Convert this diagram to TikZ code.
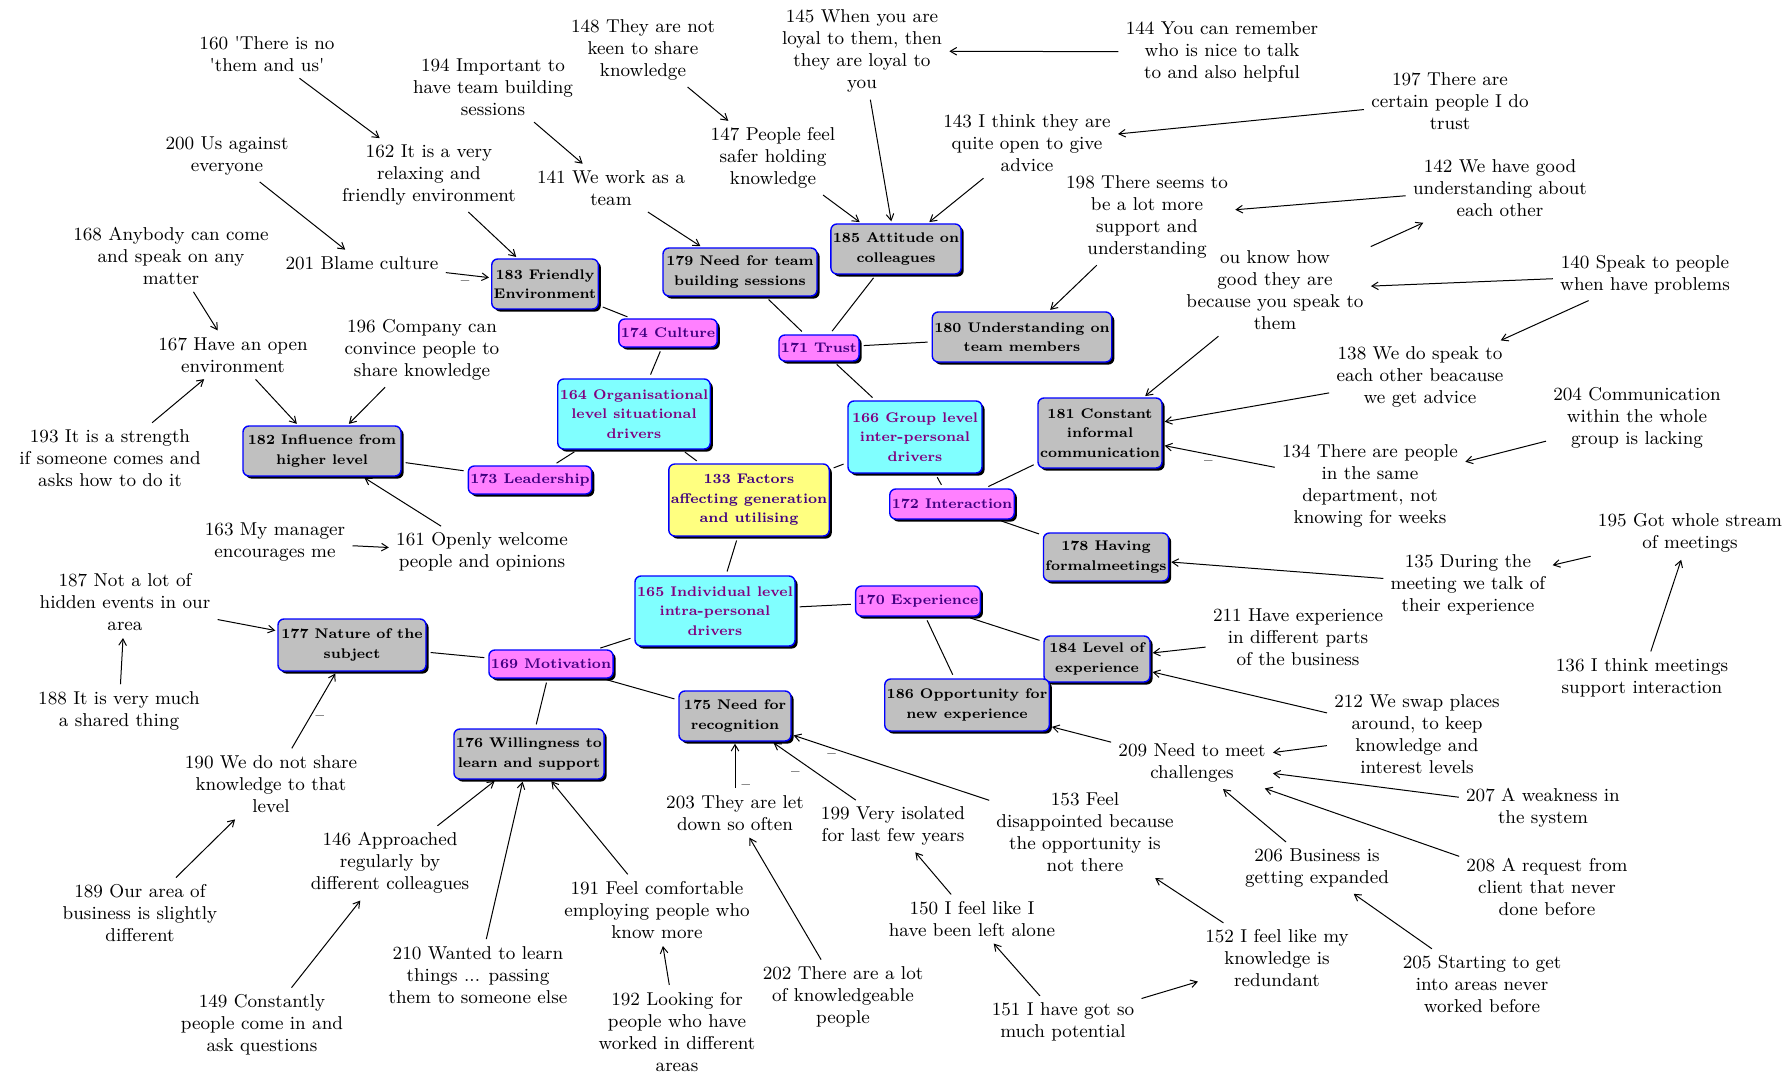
\documentclass[tikz,border=0pt]{standalone}
\usepackage{tikz}
\usetikzlibrary{calc,positioning,arrows.meta,shadows}
\definecolor{boxgray}{HTML}{C0C0C0}
\definecolor{boxpink}{HTML}{FF80FF}
\definecolor{boxcyan}{HTML}{80FFFF}
\definecolor{boxyellow}{HTML}{FFFF80}
\definecolor{boxblue}{HTML}{0000FF}
\definecolor{inkpink}{HTML}{400080}
\definecolor{inkcyan}{HTML}{800080}

\begin{document}
\begin{tikzpicture}[x=0.5pt, y=-0.5pt,
  txt/.style={align=center, inner sep=2.5pt, font=\fontsize{9.3}{11}\selectfont},
  lbl/.style={inner sep=3pt, font=\fontsize{8}{8}\selectfont},
  arr/.style={-{Straight Barb[length=3.2pt,width=3.8pt]}, line width=0.5pt, shorten >=1pt, shorten <=1pt},
  lnk/.style={line width=0.5pt, shorten >=2pt, shorten <=2pt}]
\tikzstyle{box}=[draw=boxblue, rounded corners=3pt, align=center, line width=0.7pt, inner sep=1pt, font=\fontsize{7}{9.8}\selectfont\bfseries, drop shadow={shadow xshift=1.3pt, shadow yshift=-1.3pt, fill=black, opacity=1}]
\tikzstyle{gbox}=[box, fill=boxgray]
\tikzstyle{pbox}=[box, fill=boxpink, text=inkpink]
\tikzstyle{cbox}=[box, fill=boxcyan, text=inkcyan]
\tikzstyle{ybox}=[box, fill=boxyellow, text=inkpink]
\useasboundingbox (0,0) rectangle (1783,1075);
% boxes
\node[ybox, minimum width=76pt, minimum height=36pt] (n133) at (749,500) {133 Factors\\affecting generation\\and utilising};
\node[cbox, minimum width=76pt, minimum height=35pt] (n164) at (634,414) {164 Organisational\\level situational\\drivers};
\node[cbox, minimum width=67pt, minimum height=36pt] (n166) at (915,437) {166 Group level\\inter-personal\\drivers};
\node[cbox, minimum width=80pt, minimum height=35pt] (n165) at (715,611) {165 Individual level\\intra-personal\\drivers};
\node[pbox, minimum width=46pt, minimum height=14pt] (n174) at (668,333) {174 Culture};
\node[pbox, minimum width=39pt, minimum height=13pt] (n171) at (819,348) {171 Trust};
\node[pbox, minimum width=60pt, minimum height=14pt] (n173) at (530,480) {173 Leadership};
\node[pbox, minimum width=59pt, minimum height=15pt] (n172) at (952,504) {172 Interaction};
\node[pbox, minimum width=60pt, minimum height=15pt] (n170) at (918,601) {170 Experience};
\node[pbox, minimum width=60pt, minimum height=14pt] (n169) at (551,664) {169 Motivation};
\node[gbox, minimum width=52pt, minimum height=25pt] (n183) at (545,284) {183 Friendly\\Environment};
\node[gbox, minimum width=77pt, minimum height=24pt] (n179) at (740,272) {179 Need for team\\building sessions};
\node[gbox, minimum width=65pt, minimum height=25pt] (n185) at (896,249) {185 Attitude on\\colleagues};
\node[gbox, minimum width=88pt, minimum height=25pt] (n180) at (1022,337) {180 Understanding on\\team members};
\node[gbox, minimum width=60pt, minimum height=35pt] (n181) at (1100,433) {181 Constant\\informal\\communication};
\node[gbox, minimum width=59pt, minimum height=24pt] (n178) at (1106,557) {178 Having\\formalmeetings};
\node[gbox, minimum width=53pt, minimum height=23pt] (n184) at (1097,659) {184 Level of\\experience};
\node[gbox, minimum width=82pt, minimum height=26pt] (n186) at (967,705) {186 Opportunity for\\new experience};
\node[gbox, minimum width=79pt, minimum height=25pt] (n182) at (322,451) {182 Influence from\\higher level};
\node[gbox, minimum width=74pt, minimum height=26pt] (n177) at (352,645) {177 Nature of the\\subject};
\node[gbox, minimum width=73pt, minimum height=25pt] (n176) at (529,754) {176 Willingness to\\learn and support};
\node[gbox, minimum width=56pt, minimum height=25pt] (n175) at (735,716) {175 Need for\\recognition};
% statements
\node[txt] (n160) at (267,54) {160 \textquotesingle There is no\\\textquotesingle them and us\textquotesingle};
\node[txt] (n194) at (493,87) {194 Important to\\have team building\\sessions};
\node[txt] (n148) at (643,50) {148 They are not\\keen to share\\knowledge};
\node[txt] (n145) at (862,51) {145 When you are\\loyal to them, then\\they are loyal to\\you};
\node[txt] (n144) at (1222,52) {144 You can remember\\who is nice to talk\\to and also helpful};
\node[txt] (n197) at (1450,101) {197 There are\\certain people I do\\trust};
\node[txt] (n143) at (1027,143) {143 I think they are\\quite open to give\\advice};
\node[txt] (n147) at (773,158) {147 People feel\\safer holding\\knowledge};
\node[txt] (n162) at (429,175) {162 It is a very\\relaxing and\\friendly environment};
\node[txt] (n141) at (611,188) {141 We work as a\\team};
\node[txt] (n200) at (227,156) {200 Us against\\everyone};
\node[txt] (n198) at (1147,217) {198 There seems to\\be a lot more\\support and\\understanding};
\node[txt] (n142) at (1500,188) {142 We have good\\understanding about\\each other};
\node[txt] (nyou) at (1275,290) {ou know how\\good they are\\because you speak to\\them};
\node[txt] (n140) at (1645,275) {140 Speak to people\\when have problems};
\node[txt] (n168) at (171,256) {168 Anybody can come\\and speak on any\\matter};
\node[txt] (n201) at (362,263) {201 Blame culture};
\node[txt] (n167) at (233,355) {167 Have an open\\environment};
\node[txt] (n196) at (422,350) {196 Company can\\convince people to\\share knowledge};
\node[txt] (n138) at (1420,377) {138 We do speak to\\each other beacause\\we get advice};
\node[txt] (n204) at (1637,418) {204 Communication\\within the whole\\group is lacking};
\node[txt] (n193) at (110,458) {193 It is a strength\\if someone comes and\\asks how to do it};
\node[txt] (n134) at (1370,486) {134 There are people\\in the same\\department, not\\knowing for weeks};
\node[txt] (n163) at (275,542) {163 My manager\\encourages me};
\node[txt] (n161) at (482,552) {161 Openly welcome\\people and opinions};
\node[txt] (n195) at (1690,533) {195 Got whole stream\\of meetings};
\node[txt] (n135) at (1468,585) {135 During the\\meeting we talk of\\their experience};
\node[txt] (n187) at (125,602) {187 Not a lot of\\hidden events in our\\area};
\node[txt] (n211) at (1298,637) {211 Have experience\\in different parts\\of the business};
\node[txt] (n136) at (1642,678) {136 I think meetings\\support interaction};
\node[txt] (n188) at (119,711) {188 It is very much\\a shared thing};
\node[txt] (n212) at (1417,734) {212 We swap places\\around, to keep\\knowledge and\\interest levels};
\node[txt] (n209) at (1192,763) {209 Need to meet\\challenges};
\node[txt] (n190) at (271,784) {190 We do not share\\knowledge to that\\level};
\node[txt] (n207) at (1543,808) {207 A weakness in\\the system};
\node[txt] (n203) at (735,813) {203 They are let\\down so often};
\node[txt] (n199) at (893,826) {199 Very isolated\\for last few years};
\node[txt] (n153) at (1085,832) {153 Feel\\disappointed because\\the opportunity is\\not there};
\node[txt] (n146) at (390,863) {146 Approached\\regularly by\\different colleagues};
\node[txt] (n206) at (1317,868) {206 Business is\\getting expanded};
\node[txt] (n208) at (1547,887) {208 A request from\\client that never\\done before};
\node[txt] (n191) at (657,910) {191 Feel comfortable\\employing people who\\know more};
\node[txt] (n189) at (140,913) {189 Our area of\\business is slightly\\different};
\node[txt] (n150) at (972,919) {150 I feel like I\\have been left alone};
\node[txt] (n152) at (1277,958) {152 I feel like my\\knowledge is\\redundant};
\node[txt] (n210) at (478,975) {210 Wanted to learn\\things ... passing\\them to someone else};
\node[txt] (n202) at (843,997) {202 There are a lot\\of knowledgeable\\people};
\node[txt] (n205) at (1482,984) {205 Starting to get\\into areas never\\worked before};
\node[txt] (n151) at (1063,1022) {151 I have got so\\much potential};
\node[txt] (n149) at (262,1025) {149 Constantly\\people come in and\\ask questions};
\node[txt] (n192) at (677,1032) {192 Looking for\\people who have\\worked in different\\areas};
% links between concepts
\foreach \i/\j in {183/174,179/171,185/171,171/180,174/164,171/166,164/173,182/173,164/133,133/166,166/172,172/181,172/178,133/165,165/170,170/184,170/186,165/169,177/169,169/175,169/176}{\draw[lnk] (n\i) -- (n\j);}
% arrows
\foreach \i/\j in {160/162,194/141,148/147,145/185,144/145,197/143,143/185,147/185,162/183,141/179,200/201,168/167,142/198,198/180,you/142,140/you,140/138,you/181,138/181,204/134,135/178,195/135,136/195,211/184,212/184,212/209,207/209,208/209,209/186,206/209,205/206,152/153,151/152,151/150,150/199,202/203,191/176,192/191,210/176,146/176,149/146,189/190,187/177,188/187,163/161,161/182,193/167,167/182,196/182}{\draw[arr] (n\i) -- (n\j);}
% negative arrows
\foreach \i/\j/\p/\a in {201/183/0.45/north,134/181/0.6/north,190/177/0.4/west,203/175/0.05/west,199/175/0.6/north east,153/175/0.8/north}{\draw[arr] (n\i) -- node[lbl, pos=\p, anchor=\a]{--} (n\j);}
\end{tikzpicture}
\end{document}
